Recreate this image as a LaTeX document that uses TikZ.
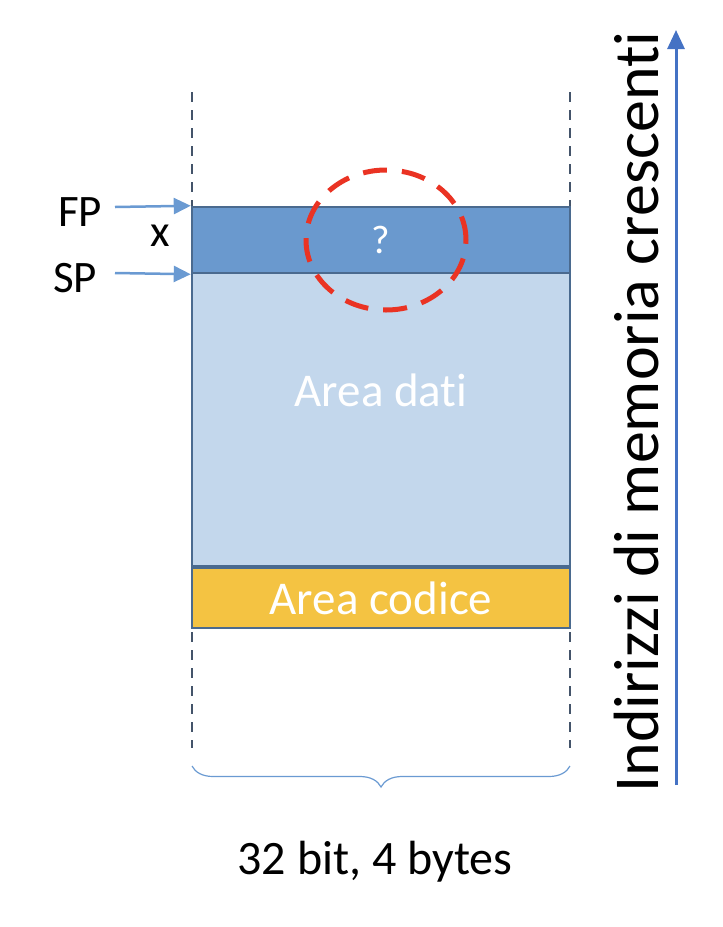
\documentclass[tikz,border=0pt]{standalone}
\usepackage{fontspec}
\setmainfont{Carlito}[Ligatures=NoCommon]
\usepackage{tikz}
\usetikzlibrary{positioning,shapes,arrows.meta,calc,decorations.pathreplacing}

\definecolor{framebl}{HTML}{6A99CE}
\definecolor{datibl}{HTML}{C3D7EC}
\definecolor{codiceyl}{HTML}{F4C342}
\definecolor{edgebl}{HTML}{4A6A8F}
\definecolor{guidegr}{HTML}{44546A}
\definecolor{ptrbl}{HTML}{6A9AD2}
\definecolor{axisbl}{HTML}{4472C4}
\definecolor{markred}{HTML}{EA3323}

\begin{document}
\begin{tikzpicture}[x=1pt,y=-1pt,
    memcell/.style={draw=edgebl, line width=2.5pt, rectangle, minimum width=378pt, inner sep=0pt, text=white},
    guide/.style={guidegr, line width=2.5pt, dash pattern=on 10pt off 8pt},
    ptr/.style={ptrbl, line width=2.5pt, -{Triangle[width=16pt,length=17pt]}},
    lbl/.style={font=\fontsize{45}{49}\selectfont}]
    \useasboundingbox (0,0) rectangle (723,927);

    % Guide lines
    \coordinate (gl0) at (192,92);
    \coordinate (gl1) at (192,748);
    \coordinate (gr0) at (570,92);
    \coordinate (gr1) at (570,748);
    \draw[guide] (gl0) -- (gl1);
    \draw[guide] (gr0) -- (gr1);

    % Memory areas
    \node[memcell, minimum height=293pt, fill=datibl] (dati) at (381,419.5) {};
    \node[font=\fontsize{47}{51}\selectfont, text=white] (datitxt) at (381,390) {Area dati};
    \node[memcell, minimum height=60pt, fill=codiceyl, font=\fontsize{47}{51}\selectfont] (codice) at (381,598) {Area codice};
    \node[memcell, minimum height=66pt, fill=framebl, font=\fontsize{40}{44}\selectfont] (frame) at (381,240) {?};

    % Marker
    \node[draw=markred, line width=5pt, dash pattern=on 24pt off 15pt, ellipse, minimum width=160pt, minimum height=140pt] (mark) at (386,240) {};

    % Pointers
    \node[lbl] (fp) at (80,212) {FP};
    \node[lbl] (xlab) at (160,236) {x};
    \node[lbl] (sp) at (75,278) {SP};
    \coordinate (fpstart) at (115,207);
    \coordinate (spstart) at (115,273);
    \draw[ptr] (fpstart) -- (frame.north west);
    \draw[ptr] (spstart) -- (frame.south west);

    % Width brace
    \draw[ptrbl, line width=1.2pt, decorate, decoration={brace, mirror, amplitude=21pt}] (gl1 |- 0,766) -- (gr1 |- 0,766);
    \node[font=\fontsize{48}{52}\selectfont] (width) at (375,862) {32 bit, 4 bytes};

    % Address axis
    \coordinate (ax0) at (676,785);
    \coordinate (ax1) at (676,30);
    \draw[axisbl, line width=3pt, -{Triangle[width=17pt,length=19pt]}] (ax0) -- (ax1);
    \node[font=\fontsize{64}{68}\selectfont, rotate=90] (axis) at (637,412) {Indirizzi di memoria crescenti};
\end{tikzpicture}
\end{document}
